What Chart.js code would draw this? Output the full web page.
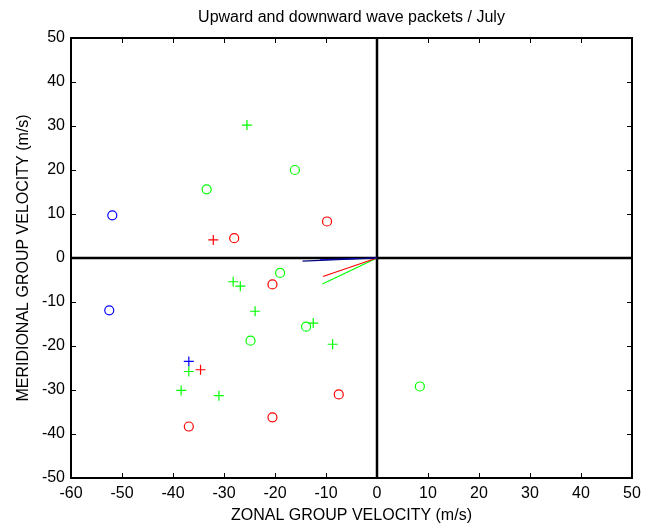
<!DOCTYPE html>
<html>
<head>
<meta charset="utf-8">
<script src="https://cdn.jsdelivr.net/npm/chart.js@4/dist/chart.umd.min.js"></script>
<style>
  body { margin: 0; background: #fff; }
  #wrap { width: 653px; height: 525px; }
</style>
</head>
<body>
<div id="wrap"><canvas id="waveChart" width="653" height="525"></canvas></div>
<script>
// values (m/s)
const greenCircleX = [-33.4, -16.1, -19.0, -13.9, -24.8, 8.4];
const greenCircleY = [15.6, 20.0, -3.4, -15.6, -18.8, -29.2];
const redCircleX = [-28.0, -9.8, -20.5, -7.5, -20.5, -36.9];
const redCircleY = [4.5, 8.3, -6.0, -31.0, -36.2, -38.3];
const blueCircleX = [-51.9, -52.5];
const blueCircleY = [9.7, -11.9];
const greenPlusX = [-25.5, -28.2, -26.8, -23.9, -12.5, -8.7, -36.9, -38.4, -31.0];
const greenPlusY = [30.2, -5.4, -6.4, -12.1, -14.8, -19.6, -25.8, -30.1, -31.3];
const redPlusX = [-32.1, -34.6];
const redPlusY = [4.1, -25.4];
const bluePlusX = [-36.9];
const bluePlusY = [-23.5];
// mean vectors from the origin
const redLineX = [0, -10.6], redLineY = [0, -4.2];
const greenLineX = [0, -10.7], greenLineY = [0, -5.9];
const blueLineX = [0, -11.2], blueLineY = [0, -0.4];
const blackLineX = [0, -14.6], blackLineY = [0, -0.7];

const xTicks = [-60, -50, -40, -30, -20, -10, 0, 10, 20, 30, 40, 50];
const yTicks = [-50, -40, -30, -20, -10, 0, 10, 20, 30, 40, 50];

function pts(xs, ys) {
    return xs.map((x, i) => ({x: x, y: ys[i]}));
}

function markers(label, xs, ys, color, style) {
    return {
        label: label,
        data: pts(xs, ys),
        showLine: false,
        pointStyle: style,
        pointRadius: style === 'circle' ? 4.5 : 5,
        pointBorderWidth: 1.2,
        pointBorderColor: color,
        pointBackgroundColor: 'rgba(0,0,0,0)'
    };
}

function vector(label, xs, ys, color) {
    return {
        label: label,
        data: pts(xs, ys),
        showLine: true,
        borderColor: color,
        borderWidth: 1.2,
        pointRadius: 0
    };
}

// box, inward ticks and the thick zero lines (MATLAB look)
const axesBox = {
    id: 'axesBox',
    beforeDatasetsDraw(chart) {
        const {ctx, chartArea: a, scales: {x, y}} = chart;
        ctx.save();
        ctx.strokeStyle = '#000';
        ctx.lineWidth = 2.5;
        ctx.beginPath();
        const x0 = x.getPixelForValue(0), y0 = y.getPixelForValue(0);
        ctx.moveTo(a.left, y0); ctx.lineTo(a.right, y0);
        ctx.moveTo(x0, a.top); ctx.lineTo(x0, a.bottom);
        ctx.stroke();
        ctx.restore();
    },
    afterDraw(chart) {
        const {ctx, chartArea: a, scales: {x, y}} = chart;
        ctx.save();
        ctx.strokeStyle = '#000';
        ctx.lineWidth = 1;
        ctx.beginPath();
        xTicks.forEach(v => {
            const px = Math.round(x.getPixelForValue(v)) + 0.5;
            ctx.moveTo(px, a.bottom); ctx.lineTo(px, a.bottom - 5);
            ctx.moveTo(px, a.top); ctx.lineTo(px, a.top + 5);
        });
        yTicks.forEach(v => {
            const py = Math.round(y.getPixelForValue(v)) + 0.5;
            ctx.moveTo(a.left, py); ctx.lineTo(a.left + 5, py);
            ctx.moveTo(a.right, py); ctx.lineTo(a.right - 5, py);
        });
        ctx.stroke();
        ctx.lineWidth = 2;
        ctx.strokeRect(a.left, a.top, a.right - a.left, a.bottom - a.top);
        ctx.restore();
    }
};

Chart.defaults.font.family = '"Liberation Sans", Arial, sans-serif';
Chart.defaults.color = '#000';

const ctx = document.getElementById('waveChart').getContext('2d');
new Chart(ctx, {
    type: 'scatter',
    data: {
        datasets: [
            vector('black', blackLineX, blackLineY, '#000080'),
            vector('blue', blueLineX, blueLineY, '#0000ff'),
            vector('red', redLineX, redLineY, '#ff0000'),
            vector('green', greenLineX, greenLineY, '#00ff00'),
            markers('green o', greenCircleX, greenCircleY, '#00ff00', 'circle'),
            markers('red o', redCircleX, redCircleY, '#ff0000', 'circle'),
            markers('blue o', blueCircleX, blueCircleY, '#0000ff', 'circle'),
            markers('green +', greenPlusX, greenPlusY, '#00ff00', 'cross'),
            markers('red +', redPlusX, redPlusY, '#ff0000', 'cross'),
            markers('blue +', bluePlusX, bluePlusY, '#0000ff', 'cross')
        ]
    },
    options: {
        responsive: false,
        animation: false,
        layout: { padding: { left: 0, right: 21, top: 0, bottom: 0 } },
        plugins: {
            legend: { display: false },
            tooltip: { enabled: false },
            title: {
                display: true,
                fullSize: false,
                text: 'Upward and downward wave packets / July',
                font: { size: 16, weight: 'normal' },
                padding: { top: 8, bottom: 10.8 }
            }
        },
        scales: {
            x: {
                type: 'linear',
                min: -60,
                max: 50,
                afterBuildTicks: s => { s.ticks = xTicks.map(v => ({value: v})); },
                afterFit: s => { s.height = 47; },
                grid: { display: false, drawTicks: false },
                border: { display: false },
                ticks: { font: { size: 16 }, padding: 6, maxRotation: 0 },
                title: {
                    display: true,
                    text: 'ZONAL GROUP VELOCITY (m/s)',
                    font: { size: 16 },
                    padding: { top: 2, bottom: 0 }
                }
            },
            y: {
                type: 'linear',
                min: -50,
                max: 50,
                afterBuildTicks: s => { s.ticks = yTicks.map(v => ({value: v})); },
                afterFit: s => { s.width = 71; },
                grid: { display: false, drawTicks: false },
                border: { display: false },
                ticks: { font: { size: 16 }, padding: 6 },
                title: {
                    display: true,
                    text: 'MERIDIONAL GROUP VELOCITY (m/s)',
                    font: { size: 16 },
                    padding: { top: 14, bottom: 4 }
                }
            }
        }
    },
    plugins: [axesBox]
});
</script>
</body>
</html>
